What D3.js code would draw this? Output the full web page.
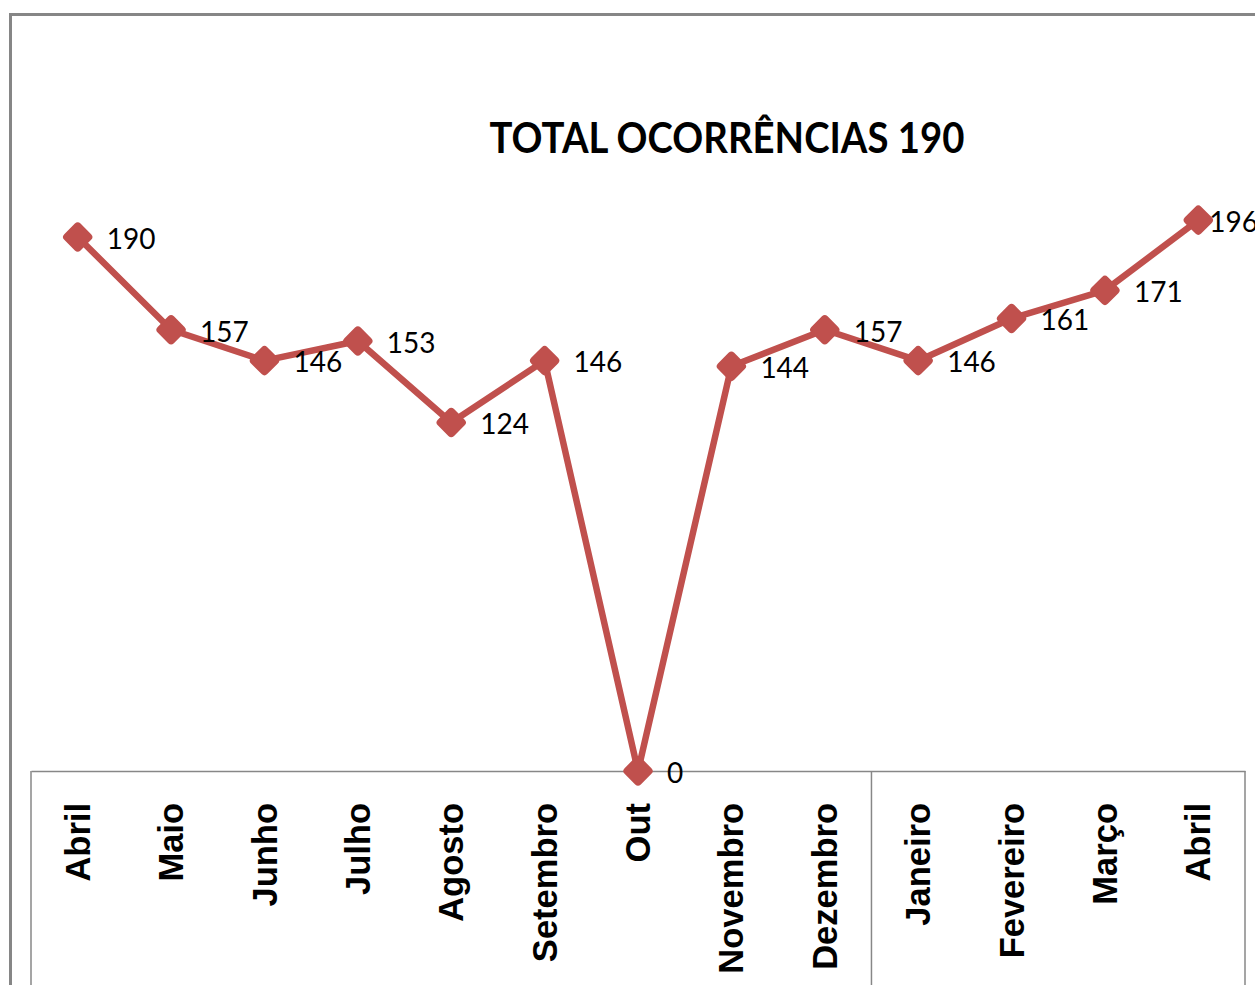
<!DOCTYPE html>
<html>
<head>
<meta charset="utf-8">
<script src="https://cdn.jsdelivr.net/npm/d3@7"></script>
<style>
  html, body { margin: 0; padding: 0; background: #fff; }
  svg { display: block; }
</style>
</head>
<body>
<svg id="chart" width="1255" height="985"></svg>
<script>
const categories = ["Abril", "Maio", "Junho", "Julho", "Agosto", "Setembro", "Out", "Novembro", "Dezembro", "Janeiro", "Fevereiro", "Março", "Abril"];
const values = [190, 157, 146, 153, 124, 146, 0, 144, 157, 146, 161, 171, 196];
const groupBreaks = [0, 9, 13]; // year-group separators on the category axis
const titleText = "TOTAL OCORRÊNCIAS 190";

const svg = d3.select("#chart");
const color = "#c0504d";
const grid = "#878787";

// outer chart border
svg.append("rect")
  .attr("x", 10.5).attr("y", 14.5)
  .attr("width", 1270).attr("height", 1000)
  .attr("fill", "none").attr("stroke", "#868686").attr("stroke-width", 3);

const plotLeft = 31, plotRight = 1245, axisY = 771;
const x = d3.scaleBand().domain(d3.range(categories.length)).range([plotLeft, plotRight]);
const y = d3.scaleLinear().domain([0, 190]).range([axisY, 237]);

// title
svg.append("text")
  .attr("x", 727).attr("y", 153)
  .attr("text-anchor", "middle")
  .attr("font-family", "Lato, 'Open Sans', sans-serif")
  .attr("font-weight", "bold")
  .attr("font-size", 42)
  .attr("textLength", 475)
  .attr("lengthAdjust", "spacingAndGlyphs")
  .attr("fill", "#000")
  .text(titleText);

// category axis
const axisG = svg.append("g").attr("transform", `translate(0,${axisY})`);
const axis = d3.axisBottom(x).tickSize(0).tickFormat(i => categories[i]);
axisG.call(axis);
axisG.select(".domain").attr("stroke", grid).attr("stroke-width", 1.5);
axisG.selectAll(".tick text")
  .attr("transform", "rotate(-90)")
  .attr("x", -32).attr("y", 0).attr("dy", "0.35em")
  .attr("text-anchor", "end")
  .attr("font-family", "'Liberation Sans', Arial, sans-serif")
  .attr("font-weight", "bold")
  .attr("font-size", 34.5)
  .attr("fill", "#000");

// group separators
svg.append("g").selectAll("line").data(groupBreaks).join("line")
  .attr("x1", d => d === categories.length ? plotRight : x(d))
  .attr("x2", d => d === categories.length ? plotRight : x(d))
  .attr("y1", axisY).attr("y2", 990)
  .attr("stroke", grid).attr("stroke-width", 1.5);

const cx = i => x(i) + x.bandwidth() / 2;

// line
const line = d3.line().x((d, i) => cx(i)).y(d => y(d));
svg.append("path")
  .datum(values)
  .attr("d", line)
  .attr("fill", "none")
  .attr("stroke", color)
  .attr("stroke-width", 6.5)
  .attr("stroke-linejoin", "round");

// markers (rounded diamonds)
svg.append("g").selectAll("rect").data(values).join("rect")
  .attr("x", -10.5).attr("y", -10.5).attr("width", 21).attr("height", 21)
  .attr("rx", 3).attr("ry", 3)
  .attr("transform", (d, i) => `translate(${cx(i)},${y(d)}) rotate(45)`)
  .attr("fill", color)
  .attr("stroke", color).attr("stroke-width", 2);

// data labels
const last = values.length - 1;
svg.append("g").selectAll("text").data(values).join("text")
  .attr("x", (d, i) => cx(i) + (i === last ? 11 : 29))
  .attr("y", d => y(d) + 2)
  .attr("dy", "0.35em")
  .attr("font-family", "Lato, 'Open Sans', sans-serif")
  .attr("font-size", 28)
  .attr("fill", "#000")
  .text(d => d);
</script>
</body>
</html>
